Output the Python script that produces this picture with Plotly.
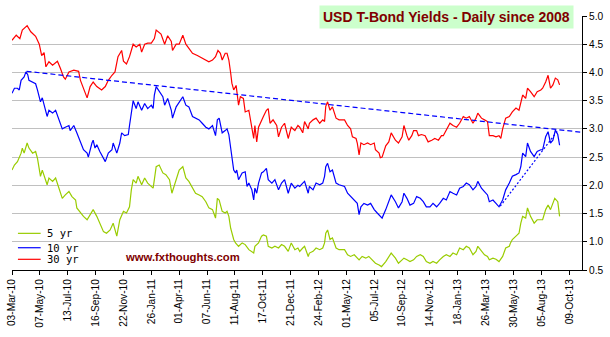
import plotly.graph_objects as go

# ---- data -----------------------------------------------------------------
# x = trading days counted from 03-Mar-2010; y = yield in percent

SERIES_NAMES = ["5 yr", "10 yr", "30 yr"]
SERIES_COLORS = ["#99cc00", "#0000ff", "#ff0000"]

days_5y = [
    0, 4, 9, 15, 17, 20, 25, 28, 34, 39, 42, 45, 47, 50, 56, 58, 61, 67, 72, 77,
    83, 88, 94, 99, 105, 107, 113, 118, 124, 129, 134, 140, 145, 151, 156, 162, 167, 173, 178, 184,
    189, 194, 197, 200, 205, 208, 214, 219, 224, 230, 233, 235,
    238, 243, 249, 254, 260, 264, 271, 276, 282, 287, 292, 298, 303, 309, 314, 320, 325, 331, 336, 339,
    342, 347, 352, 355, 358, 361, 363, 366, 369, 374, 380, 385, 391, 396, 399, 401, 407, 412, 415, 420,
    423, 429, 434, 440, 445, 450, 456, 461, 467, 472,
    475, 480, 483, 489, 491, 497, 502, 508, 513, 516, 518, 521, 525, 529, 535, 540, 549, 554, 559, 565,
    570, 573, 578, 584, 589, 595, 600, 606, 610, 617, 622, 626, 633, 638, 644, 647, 652, 657, 663, 668,
    674, 679, 684, 690, 695, 701, 706,
    712, 717, 723, 728, 734, 739, 745, 750, 755, 761, 766, 769, 775, 780, 785, 788, 794, 799, 804, 810,
    815, 821, 823, 826, 832, 837, 840, 843, 848, 851, 856, 862, 867, 873, 876, 881, 885, 889, 893, 896,
    901, 904,
]
yld_5y = [
    2.27, 2.36, 2.42, 2.57, 2.66, 2.57, 2.75, 2.66, 2.57, 2.60, 2.48, 2.27, 2.16, 2.27, 2.10, 2.01, 2.13, 2.07, 2.13, 1.98,
    1.77, 1.83, 1.89, 1.80, 1.74, 1.60, 1.51, 1.45, 1.39, 1.48, 1.57, 1.45, 1.33, 1.18, 1.15, 1.21, 1.33, 1.10, 1.39, 1.54,
    1.51, 1.62, 1.92, 2.10, 2.04, 2.16, 2.01, 2.13, 2.04, 1.98, 1.95, 2.10,
    2.33, 2.36, 2.22, 2.19, 2.10, 1.86, 2.10, 2.27, 2.33, 2.13, 2.07, 1.95, 1.86, 1.83, 1.80, 1.71, 1.60, 1.57, 1.42, 1.77,
    1.74, 1.54, 1.51, 1.54, 1.45, 1.24, 1.15, 1.04, 0.98, 0.92, 0.98, 0.95, 0.86, 0.83, 0.80, 0.92, 0.98, 1.10, 1.12, 1.10,
    0.92, 0.89, 0.92, 0.89, 0.95, 0.92, 0.83, 0.98, 0.86, 0.89,
    0.83, 0.89, 0.92, 0.74, 0.80, 0.83, 0.89, 0.86, 0.89, 0.98, 1.15, 1.21, 1.04, 1.07, 0.89, 0.86, 0.86, 0.77, 0.74, 0.77,
    0.71, 0.68, 0.74, 0.71, 0.74, 0.68, 0.62, 0.59, 0.56, 0.65, 0.74, 0.80, 0.71, 0.62, 0.68, 0.71, 0.68, 0.65, 0.68, 0.74,
    0.77, 0.74, 0.65, 0.62, 0.65, 0.62, 0.68,
    0.74, 0.77, 0.74, 0.80, 0.77, 0.89, 0.86, 0.92, 0.89, 0.77, 0.83, 0.92, 0.83, 0.77, 0.74, 0.68, 0.71, 0.69, 0.65, 0.74,
    0.89, 0.92, 0.98, 1.04, 1.10, 1.15, 1.33, 1.45, 1.42, 1.60, 1.45, 1.33, 1.39, 1.39, 1.39, 1.57, 1.65, 1.57, 1.68, 1.77,
    1.71, 1.45,
]

days_10y = [
    0, 4, 9, 12, 15, 20, 23, 26, 28, 34, 39, 42, 45, 47, 50, 56, 58, 61, 67, 72,
    77, 83, 88, 94, 96, 102, 107, 113, 118, 124, 126, 132, 134, 137, 140, 145, 151, 154, 159, 165,
    167, 173, 178, 181, 186, 192, 194, 197, 200, 205, 208, 214, 219, 224, 230, 233, 235,
    238, 243, 249, 252, 257, 263, 265, 271, 276, 282, 287, 292, 298, 303, 309, 314, 320, 325, 331, 336,
    339, 342, 347, 352, 355, 358, 361, 363, 366, 369, 371, 374, 380, 385, 388, 391, 396, 399, 401, 404,
    407, 412, 415, 420, 423, 429, 434, 440, 445, 450, 456, 461, 467, 472,
    475, 480, 483, 489, 491, 497, 502, 508, 513, 516, 518, 521, 525, 529, 535, 540, 549, 554, 559, 565,
    570, 573, 576, 581, 587, 592, 598, 603, 608, 611, 617, 622, 626, 633, 638, 644, 647, 652, 657, 663,
    668, 674, 679, 684, 690, 695, 701, 706,
    712, 717, 723, 728, 734, 739, 745, 750, 755, 761, 766, 769, 775, 780, 785, 788, 794, 799, 804, 810,
    815, 821, 826, 832, 837, 840, 843, 848, 851, 856, 862, 867, 873, 876, 881, 885, 889, 893, 897, 901,
    904,
]
yld_10y = [
    3.63, 3.72, 3.72, 3.69, 3.86, 3.92, 4.01, 3.96, 3.86, 3.83, 3.80, 3.69, 3.55, 3.48, 3.55, 3.33, 3.22, 3.33, 3.28, 3.33,
    3.19, 3.00, 3.03, 3.06, 2.97, 3.06, 2.93, 2.75, 2.63, 2.57, 2.50, 2.75, 2.80, 2.66, 2.72, 2.60, 2.48, 2.42, 2.57, 2.63,
    2.75, 2.57, 2.75, 2.93, 2.88, 2.90, 3.06, 3.27, 3.50, 3.36, 3.48, 3.33, 3.45, 3.36, 3.42, 3.36, 3.60,
    3.75, 3.66, 3.57, 3.42, 3.54, 3.33, 3.19, 3.39, 3.48, 3.57, 3.42, 3.39, 3.22, 3.19, 3.16, 3.10, 3.03, 3.00, 3.06, 2.88,
    3.16, 3.19, 2.93, 2.97, 3.00, 2.90, 2.63, 2.45, 2.27, 2.22, 2.27, 2.10, 2.22, 2.24, 1.98, 2.04, 1.92, 1.74, 1.95, 1.86,
    2.04, 2.22, 2.24, 2.30, 2.10, 2.04, 2.10, 1.92, 2.04, 2.10, 1.86, 2.04, 1.95, 2.00,
    1.98, 2.04, 2.07, 1.86, 1.98, 1.92, 2.04, 2.01, 2.04, 2.16, 2.33, 2.39, 2.24, 2.27, 2.04, 2.01, 1.98, 1.86, 1.80, 1.74,
    1.68, 1.48, 1.62, 1.68, 1.65, 1.68, 1.57, 1.51, 1.45, 1.42, 1.57, 1.71, 1.83, 1.71, 1.60, 1.71, 1.86, 1.77, 1.65, 1.68,
    1.80, 1.77, 1.71, 1.62, 1.62, 1.68, 1.62, 1.68,
    1.77, 1.74, 1.89, 1.86, 1.83, 1.95, 1.98, 2.04, 2.01, 1.92, 1.98, 2.07, 1.95, 1.89, 1.83, 1.71, 1.74, 1.68, 1.62, 1.74,
    1.92, 2.04, 2.16, 2.19, 2.22, 2.33, 2.57, 2.51, 2.75, 2.60, 2.51, 2.60, 2.63, 2.63, 2.86, 2.95, 2.75, 2.80, 2.98, 2.90,
    2.71,
]

days_30y = [
    0, 7, 13, 17, 25, 31, 39, 45, 49, 53, 56, 61, 67, 75, 80, 85, 88, 94, 102, 110,
    113, 118, 124, 129, 134, 140, 148, 154, 159, 165, 170, 175, 181, 184, 189, 194, 200, 205, 211, 214,
    219, 224, 230, 235,
    238, 246, 252, 257, 263, 265, 271, 276, 282, 287, 292, 298, 306, 314, 320, 325, 331, 336, 340, 344,
    347, 352, 355, 358, 361, 363, 366, 370, 374, 377, 382, 385, 391, 396, 399, 401, 404, 407, 412, 415,
    420, 423, 426, 431, 437, 440, 445, 450, 456, 461, 467, 472,
    475, 480, 483, 489, 491, 497, 502, 508, 513, 516, 518, 521, 525, 529, 535, 540, 549, 554, 559, 562,
    568, 570, 573, 576, 581, 587, 592, 598, 600, 606, 608, 611, 617, 622, 626, 633, 638, 644, 647, 649,
    652, 655, 660, 663, 668, 671, 676, 682, 687, 693, 698, 704, 709,
    712, 717, 723, 728, 734, 739, 745, 750, 755, 761, 766, 769, 775, 780, 785, 788, 794, 799, 804, 807,
    810, 815, 821, 826, 832, 837, 840, 843, 848, 851, 856, 862, 867, 873, 876, 881, 885, 889, 893, 897,
    901, 904,
]
yld_30y = [
    4.57, 4.66, 4.60, 4.75, 4.83, 4.72, 4.64, 4.50, 4.30, 4.35, 4.10, 4.19, 4.13, 4.20, 4.07, 3.92, 3.88, 4.01, 4.04, 4.02,
    3.86, 3.72, 3.55, 3.75, 3.83, 3.75, 3.69, 3.75, 3.86, 3.95, 4.01, 4.28, 4.39, 4.20, 4.15, 4.28, 4.50, 4.45, 4.50, 4.36,
    4.50, 4.52, 4.52, 4.60,
    4.75, 4.68, 4.50, 4.65, 4.55, 4.39, 4.50, 4.50, 4.66, 4.50, 4.43, 4.34, 4.30, 4.25, 4.22, 4.19, 4.22, 4.28, 4.39, 4.34,
    4.22, 4.34, 4.34, 4.22, 3.99, 3.81, 3.69, 3.77, 3.42, 3.57, 3.54, 3.30, 3.33, 3.03, 2.83, 3.06, 2.77, 3.03, 3.16, 3.22,
    3.33, 3.36, 3.10, 3.16, 3.06, 2.86, 3.03, 3.10, 2.83, 3.03, 2.97, 3.06,
    3.03, 2.93, 3.13, 3.00, 3.10, 3.16, 3.19, 3.10, 3.16, 3.13, 3.40, 3.48, 3.33, 3.39, 3.19, 3.16, 3.16, 3.06, 3.00, 2.86,
    2.83, 2.75, 2.54, 2.75, 2.72, 2.75, 2.72, 2.75, 2.63, 2.57, 2.49, 2.50, 2.70, 2.77, 2.93, 2.80, 2.75, 2.86, 3.06, 2.97,
    2.88, 2.80, 2.88, 2.97, 2.97, 2.88, 2.90, 2.88, 2.77, 2.80, 2.83, 2.80, 2.88,
    2.88, 2.98, 3.10, 3.06, 3.03, 3.10, 3.22, 3.19, 3.22, 3.10, 3.19, 3.28, 3.19, 3.16, 3.13, 2.88, 2.88, 2.86, 2.88, 2.83,
    3.00, 3.19, 3.22, 3.30, 3.37, 3.33, 3.45, 3.60, 3.54, 3.72, 3.66, 3.57, 3.66, 3.69, 3.72, 3.83, 3.95, 3.72, 3.78, 3.90,
    3.87, 3.78,
]

# hand-drawn trend lines on the 10 yr series (two end points each)
trend_down_days = [24, 941]
trend_down_vals = [4.02, 2.94]
trend_up_days = [806, 901]
trend_up_vals = [1.63, 2.97]

TICK_LABELS = [
    "03-Mar-10", "07-May-10", "13-Jul-10", "16-Sep-10", "22-Nov-10", "26-Jan-11",
    "01-Apr-11", "07-Jun-11", "11-Aug-11", "17-Oct-11", "21-Dec-11", "24-Feb-12",
    "01-May-12", "05-Jul-12", "10-Sep-12", "14-Nov-12", "18-Jan-13", "26-Mar-13",
    "30-May-13", "05-Aug-13", "09-Oct-13",
]
TICK_STEP = 46        # trading days between labelled dates
X_END = 941           # last trading day shown on the axis

TITLE = "USD T-Bond Yields - Daily since 2008"
SOURCE = "www.fxthoughts.com"

series = [(days_5y, yld_5y), (days_10y, yld_10y), (days_30y, yld_30y)]
for (d, v), name in zip(series, SERIES_NAMES):
    assert len(d) == len(v), name

# ---- figure ---------------------------------------------------------------
fig = go.Figure()

for (d, v), name, color in zip(series, SERIES_NAMES, SERIES_COLORS):
    fig.add_trace(go.Scatter(
        x=d, y=v, name=name, mode="lines",
        line=dict(color=color, width=1.2),
        showlegend=False, hoverinfo="skip",
    ))

fig.add_trace(go.Scatter(
    x=trend_down_days, y=trend_down_vals, mode="lines",
    line=dict(color="#0000ff", width=1.2, dash="5px,3px"),
    showlegend=False, hoverinfo="skip",
))
fig.add_trace(go.Scatter(
    x=trend_up_days, y=trend_up_vals, mode="lines",
    line=dict(color="#0000ff", width=1.2, dash="2px,2px"),
    showlegend=False, hoverinfo="skip",
))

tick_font = dict(family="Arial, Liberation Sans, sans-serif", size=10.2, color="#000000")

fig.update_layout(
    width=610, height=337,
    margin=dict(l=6, r=28, t=16, b=67, pad=0),
    paper_bgcolor="#ffffff", plot_bgcolor="#ffffff",
    xaxis=dict(
        range=[0, X_END],
        tickmode="array",
        tickvals=[i * TICK_STEP for i in range(len(TICK_LABELS))],
        ticktext=TICK_LABELS,
        tickangle=-90,
        ticks="outside", ticklen=4, tickcolor="#000000", tickwidth=1,
        showline=True, linecolor="#000000", linewidth=1,
        showgrid=False, zeroline=False,
        tickfont=tick_font,
    ),
    yaxis=dict(
        side="right",
        range=[0.5, 5.0],
        tick0=0.5, dtick=0.5, tickformat=".1f",
        ticks="outside", ticklen=4, tickcolor="#000000", tickwidth=1,
        showline=True, linecolor="#000000", linewidth=1,
        showgrid=True, gridcolor="#c0c0c0", gridwidth=1,
        zeroline=False,
        tickfont=tick_font,
    ),
)

# chart title in a tinted box at the top right
fig.add_annotation(
    text=f"<b>{TITLE}</b>",
    xref="paper", yref="paper", x=0.986, y=0.996,
    xanchor="right", yanchor="middle", showarrow=False,
    font=dict(family="Arial, Liberation Sans, sans-serif", size=14, color="#800000"),
    bgcolor="#ccffcc", borderpad=3,
)

# source credit
fig.add_annotation(
    text=f"<b>{SOURCE}</b>",
    xref="paper", yref="paper", x=0.2986, y=0.0512,
    xanchor="center", yanchor="middle", showarrow=False,
    font=dict(family="Arial, Liberation Sans, sans-serif", size=11.3, color="#800000"),
)

# legend box in the lower-left corner
fig.add_shape(
    type="rect", xref="paper", yref="paper",
    x0=0, x1=0.116, y0=0, y1=0.173,
    fillcolor="#ffffff", line=dict(width=0), layer="between",
)
legend_rows = [0.1443, 0.0877, 0.0421]
for name, color, ry in zip(SERIES_NAMES, SERIES_COLORS, legend_rows):
    fig.add_shape(
        type="line", xref="paper", yref="paper",
        x0=0.0104, x1=0.0503, y0=ry, y1=ry,
        line=dict(color=color, width=1.2),
    )
    fig.add_annotation(
        text=name, xref="paper", yref="paper", x=0.0578, y=ry,
        xanchor="left", yanchor="middle", showarrow=False,
        font=dict(family="DejaVu Sans Mono, monospace", size=10.5, color="#000000"),
    )

fig.write_html("out.html")
